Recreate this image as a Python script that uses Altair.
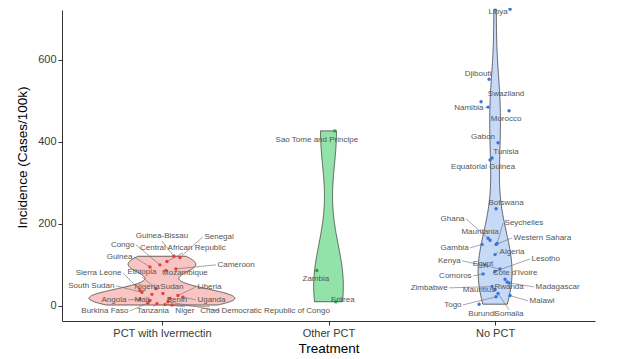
import altair as alt
import pandas as pd

treatments = ["PCT with Ivermectin", "Other PCT", "No PCT"]

# ---- data ----
ivm_countries = ["Guinea-Bissau", "Senegal", "Congo", "Central African Republic", "Guinea",
                 "Cameroon", "Sierra Leone", "Ethiopia", "Mozambique", "South Sudan", "Nigeria",
                 "Sudan", "Liberia", "Angola", "Mali", "Benin", "Uganda", "Burkina Faso",
                 "Tanzania", "Niger", "Chad", "Democratic Republic of Congo"]
ivm_values = [121, 118, 100, 108, 95, 90, 38, 42, 86, 33, 28, 30, 25, 16, 13, 18, 21, 7, 5, 3, 2, 10]

oth_countries = ["Sao Tome and Principe", "Zambia", "Eritrea"]
oth_values = [427, 86, 10]

nop_countries = ["Libya", "Djibouti", "Swaziland", "Namibia", "Morocco", "Gabon", "Tunisia",
                 "Equatorial Guinea", "Botswana", "Ghana", "Seychelles", "Mauritania",
                 "Western Sahara", "Gambia", "Algeria", "Kenya", "Egypt", "Lesotho", "Comoros",
                 "Cote d'Ivoire", "Zimbabwe", "Mauritius", "Rwanda", "Madagascar", "Malawi",
                 "Togo", "Burundi", "Somalia"]
nop_values = [724, 553, 498, 485, 476, 398, 361, 356, 237, 165, 152, 160, 150, 150, 125, 90, 100,
              84, 78, 65, 47, 40, 58, 56, 25, 22, 4, 30]

# ---- layout (jitter and repelled label placement, in data units) ----
ivm_jitter = [0.072, 0.108, -0.012, 0.030, -0.072, 0.084, -0.132, -0.036, 0.024, -0.120, -0.060,
              0.006, 0.096, -0.132, -0.072, 0.048, 0.126, -0.084, -0.030, 0.018, 0.060, 0.036]
ivm_lab_dx = [0.0, 0.246, -0.156, 0.126, -0.168, 0.324, -0.234, -0.120, 0.138, -0.276, -0.090,
              0.060, 0.204, -0.204, -0.120, 0.090, 0.204, -0.192, -0.054, 0.138, 0.288, 0.348]
ivm_lab_y = [158.5, 168.3, 148.8, 129.3, 119.5, 100, 80.5, 70.7, 80.5, 48.8, 46.3, 46.3, 46.3,
             14.6, 14.6, 14.6, 14.6, -12.2, -2.4, -2.4, -2.4, -12.2]
ivm_anchor = ["above", "left", "right", "above", "right", "left", "right", "above", "mid", "right",
              "mid", "mid", "left", "right", "mid", "mid", "left", "right", "below", "below",
              "below", "left"]

oth_jitter = [0.038, -0.070, 0.044]
oth_lab_dx = [-0.070, -0.076, 0.086]
oth_lab_y = [405, 65.9, 14.6]
oth_anchor = ["mid", "mid", "mid"]

nop_jitter = [0.090, -0.036, -0.084, -0.042, 0.084, 0.018, -0.018, -0.030, 0.006, -0.042, 0.012,
              -0.030, 0.006, -0.078, 0.0, 0.030, -0.060, 0.0, -0.072, 0.060, -0.018, 0.0, 0.072,
              0.084, 0.090, 0.006, -0.096, 0.018]
nop_lab_dx = [0.018, -0.102, 0.066, -0.060, 0.066, -0.072, 0.066, -0.072, 0.066, -0.174, 0.048,
              -0.090, 0.102, -0.150, 0.018, -0.198, -0.072, 0.210, -0.132, 0.120, -0.276, -0.096,
              0.084, 0.234, 0.198, -0.192, -0.078, 0.084]
nop_lab_y = [716, 566, 517, 483, 456, 412, 375.6, 339, 251, 212, 202, 180.5, 165.9, 141.5, 131.7,
             109.8, 102.4, 114.6, 73.2, 80.5, 43.9, 39, 46.3, 46.3, 12.2, 2.4, -9.8, -9.8]
nop_anchor = ["mid", "mid", "mid", "right", "mid", "mid", "mid", "mid", "mid", "right", "left",
              "mid", "left", "right", "left", "right", "mid", "left", "right", "mid", "right",
              "mid", "mid", "left", "left", "right", "below", "below"]

bandwidths = [18, 100, 80]
fill_colors = ["#F9C5C2", "#93E2A9", "#C6D9F7"]
point_colors = ["#E2403A", "#23A045", "#3C74DC"]
K = 36.0  # violin half-width (x units) per unit density

groups = [
    (ivm_countries, ivm_values, ivm_jitter, ivm_lab_dx, ivm_lab_y, ivm_anchor),
    (oth_countries, oth_values, oth_jitter, oth_lab_dx, oth_lab_y, oth_anchor),
    (nop_countries, nop_values, nop_jitter, nop_lab_dx, nop_lab_y, nop_anchor),
]
rows = []
for code, (cs, vs, js, ldx, ly, an) in enumerate(groups, start=1):
    for c, v, j, dx, y, a in zip(cs, vs, js, ldx, ly, an):
        rows.append(dict(country=c, treatment=treatments[code - 1], code=code, incidence=v,
                         jit=j, ldx=dx, lab_y=y, anchor=a))
df = pd.DataFrame(rows)

FONT = "Liberation Sans"
x_scale = alt.Scale(domain=[0.4, 3.6], nice=False, zero=False)
y_scale = alt.Scale(domain=[-37, 722], nice=False, zero=False)
label_expr = " : ".join(f"datum.value == {i + 1} ? '{t}'" for i, t in enumerate(treatments[:-1])) + f" : '{treatments[-1]}'"
x_axis = alt.Axis(values=[1, 2, 3], labelExpr=label_expr, grid=False, domainColor="#333333",
                  tickColor="#333333", tickSize=4, labelFontSize=11, labelColor="#3a3a3a",
                  titleFontSize=13.5, titleColor="black", titleFontWeight="normal",
                  labelFont=FONT, titleFont=FONT, labelPadding=2, titlePadding=3)
y_axis = alt.Axis(values=[0, 200, 400, 600], grid=False, domainColor="#333333",
                  tickColor="#333333", tickSize=4, labelFontSize=11, labelColor="#3a3a3a",
                  titleFontSize=13.5, titleColor="black", titleFontWeight="normal",
                  labelFont=FONT, titleFont=FONT, labelPadding=2, titlePadding=8, titleY=147)


def X(field):
    return alt.X(field, type="quantitative", scale=x_scale, axis=x_axis, title="Treatment")


def Y(field):
    return alt.Y(field, type="quantitative", scale=y_scale, axis=y_axis,
                 title="Incidence (Cases/100k)")


base = alt.Chart(df).transform_calculate(
    px="datum.code + datum.jit", lx="datum.code + datum.ldx")

layers = []
for code in (1, 2, 3):
    v = (alt.Chart(df)
         .transform_filter(alt.datum.code == code)
         .transform_density("incidence", as_=["incidence", "density"], bandwidth=bandwidths[code - 1])
         .transform_calculate(lo=f"{code} - {K} * datum.density", hi=f"{code} + {K} * datum.density")
         .mark_area(orient="horizontal", fill=fill_colors[code - 1], stroke="#2b2b2b",
                    strokeWidth=0.7, opacity=1)
         .encode(y=Y("incidence"), x=X("lo"), x2="hi"))
    layers.append(v)

segs = base.transform_filter("datum.anchor != 'mid' && datum.country != 'Burundi'").mark_rule(
    color="#6b6b6b", strokeWidth=0.6).encode(x=X("px"), y=Y("incidence"), x2="lx", y2="lab_y")
layers.append(segs)

pts = base.mark_circle(size=12, opacity=1).encode(
    x=X("px"), y=Y("incidence"),
    color=alt.Color("treatment:N", scale=alt.Scale(domain=treatments, range=point_colors), legend=None))
layers.append(pts)

text_specs = {
    "left": dict(align="left", baseline="middle", dx=1.5),
    "right": dict(align="right", baseline="middle", dx=-1.5),
    "mid": dict(align="center", baseline="middle"),
    "above": dict(align="center", baseline="bottom", dy=-0.5),
    "below": dict(align="center", baseline="top", dy=0.5),
}
for anc, spec in text_specs.items():
    t = base.transform_filter(alt.datum.anchor == anc).mark_text(
        font=FONT, fontSize=8, color="#555555", **spec).encode(
        x=X("lx"), y=Y("lab_y"), text="country:N")
    layers.append(t)

chart = alt.layer(*layers).properties(
    width=533, height=311,
    autosize=alt.AutoSizeParams(type="none"),
    padding={"left": 54, "top": 2, "right": 16, "bottom": 38},
).configure_view(stroke=None)

chart.save("out.html", embed_options={"renderer": "svg", "actions": False})
